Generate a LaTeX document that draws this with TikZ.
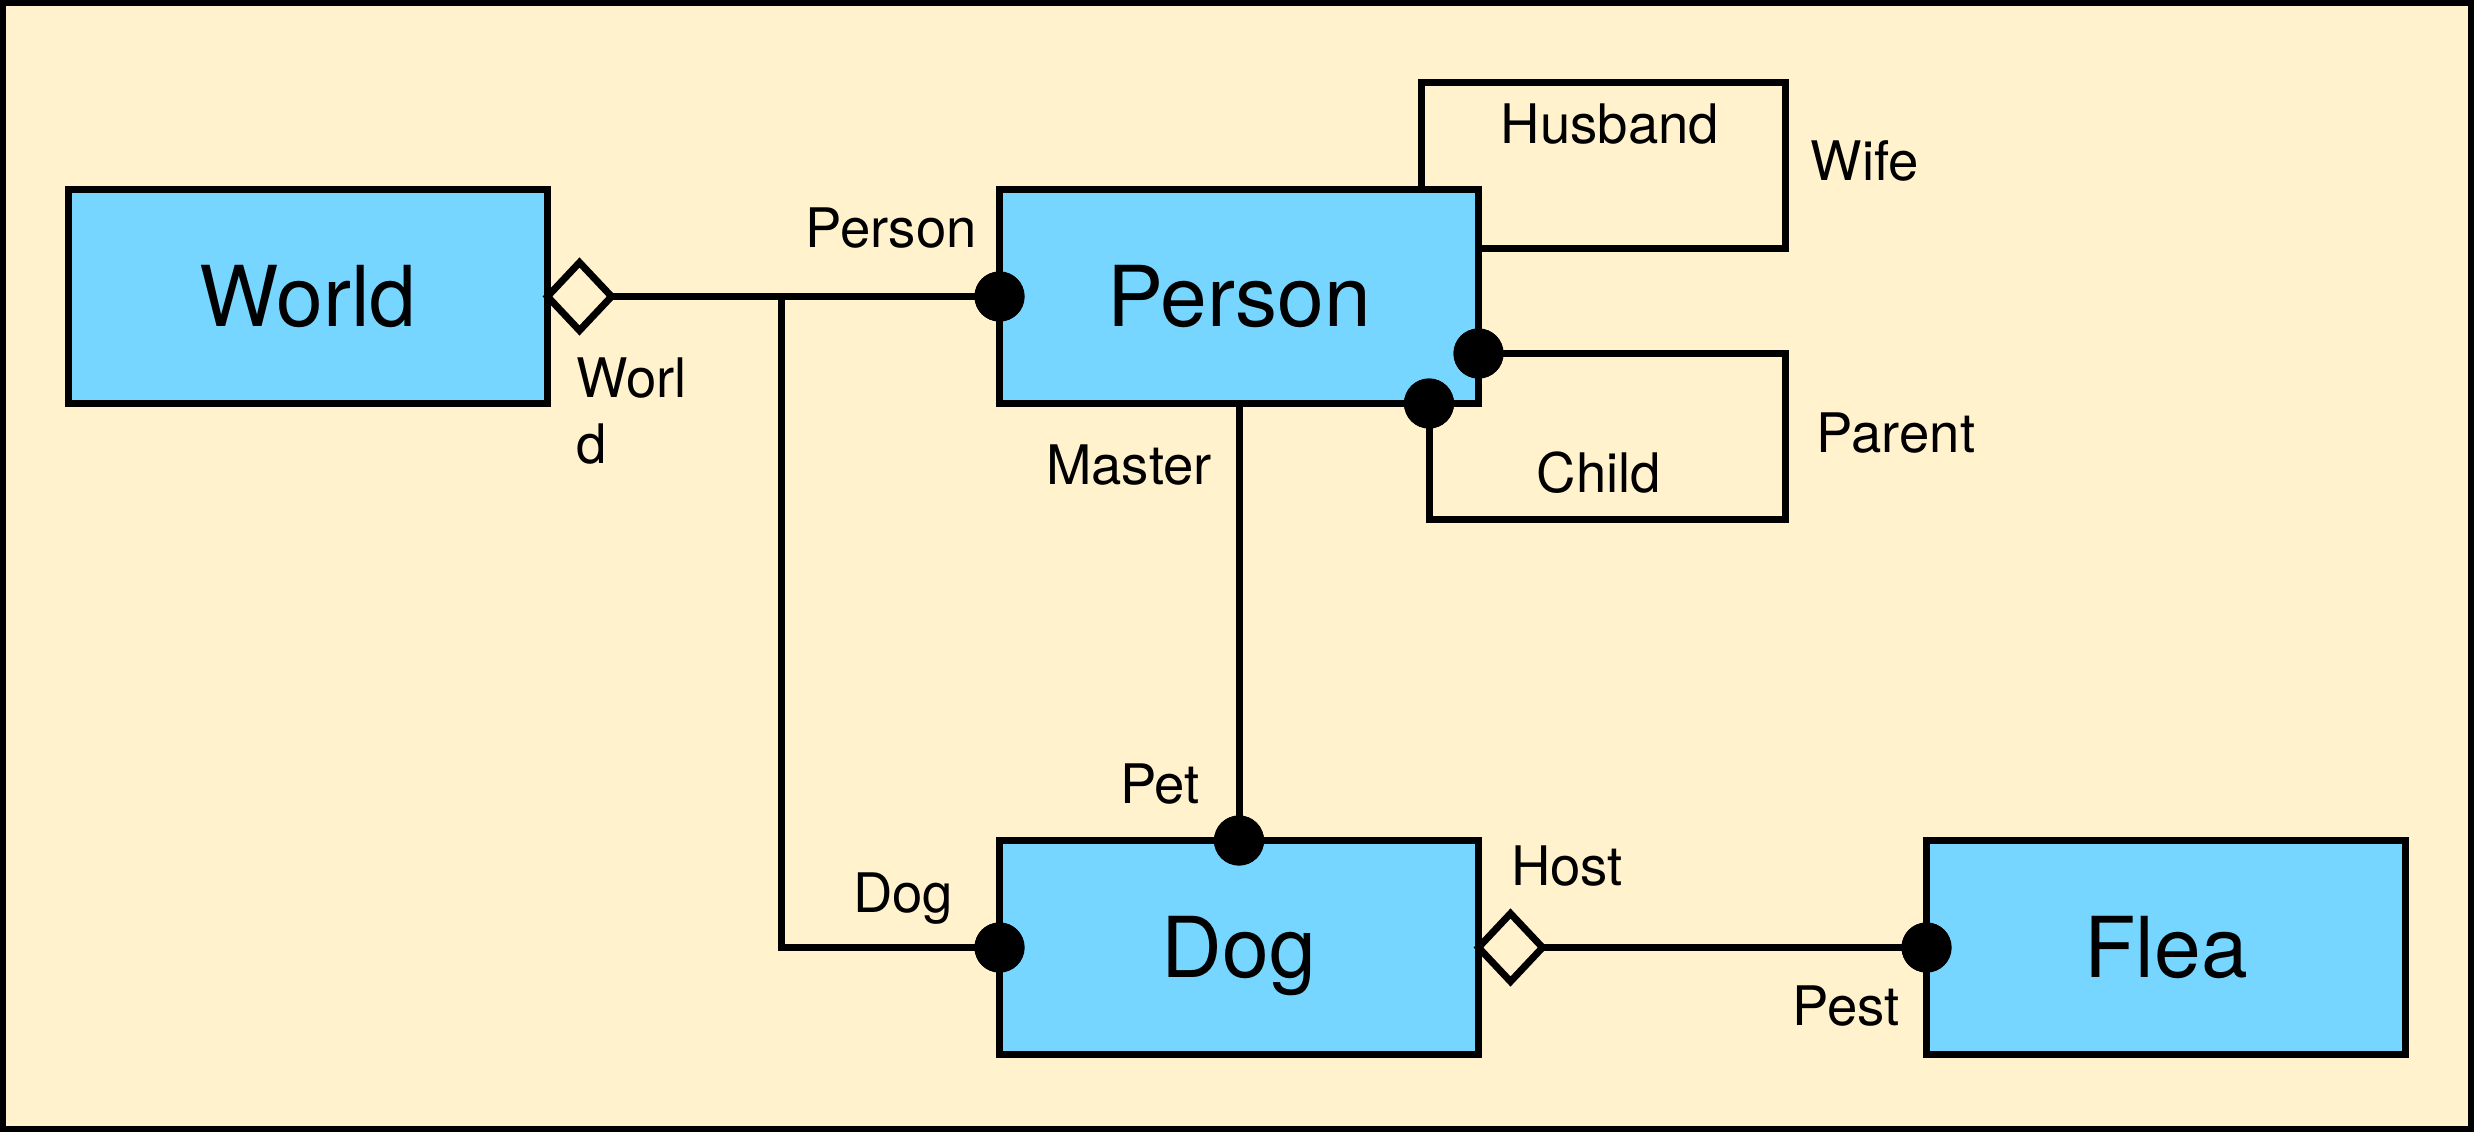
\documentclass[tikz,border=0pt]{standalone}
\usepackage{fontspec}
\setmainfont{TeX Gyre Heros}
\usetikzlibrary{shapes.geometric,calc}
\definecolor{bg}{HTML}{FFF2CC}
\definecolor{boxblue}{HTML}{76D6FF}
\begin{document}
\begin{tikzpicture}[x=1pt,y=-1pt,
 cls/.style={draw=black,line width=7pt,fill=boxblue,minimum width=479pt,minimum height=214pt,inner sep=0pt,outer sep=0pt,font=\fontsize{84}{100}\selectfont,text height=60pt,text depth=0pt},
 conn/.style={draw=black,line width=7pt,line join=miter},
 diam/.style={draw=black,line width=7pt,fill=bg,shape=diamond,minimum width=64pt,minimum height=68pt,inner sep=0pt,outer sep=0pt,aspect=1},
 dot/.style={circle,fill=black,minimum size=50pt,inner sep=0pt,outer sep=0pt},
 lbl/.style={inner sep=0pt,font=\fontsize{54.5}{66}\selectfont}]
\useasboundingbox (0,0) rectangle (2474,1132);
\fill[bg] (0,0) rectangle (2474,1132);
\draw[line width=6pt] (3,3) rectangle (2471,1129);
% classes
\node[cls] (world) at (308,296.5) {World};
\node[cls] (person) at (1239,296.5) {Person};
\node[cls] (dog) at (1239,947.5) {Dog};
\node[cls] (flea) at (2166,947.5) {Flea};
% helper coordinates
\coordinate (jtop) at (781.5,296.5);
\coordinate (jbot) at (781.5,947.5);
\coordinate (hus) at (1421.5,82.5);
\coordinate (wif) at (1785.5,248.5);
\coordinate (par) at (1785.5,519.5);
\coordinate (cr) at (1785.5,353.5);
\coordinate (cb) at (1429,519.5);
% diamonds and dots
\node[diam,anchor=west] (wdia) at (world.east) {};
\node[diam,anchor=west] (hdia) at (dog.east) {};
\node[dot] (dpw) at (person.west) {};
\node[dot] (ddw) at (dog.west) {};
\node[dot] (ddn) at (dog.north) {};
\node[dot] (dfw) at (flea.west) {};
\node[dot] (dpr) at (person.east |- cr) {};
\node[dot] (dpb) at (person.south -| cb) {};
% connectors
\draw[conn] (wdia.east) -- (dpw.center);
\draw[conn] (jtop) -- (jbot) -- (ddw.center);
\draw[conn] (person.south) -- (ddn.center);
\draw[conn] (hdia.east) -- (dfw.center);
\draw[conn] (person.north -| hus) |- (wif |- hus) -- (wif) -- (person.east |- wif);
\draw[conn] (dpr.center) -| (par) -| (dpb.center);
% redraw dots on top
\fill (dpw) circle (25pt);
\fill (ddw) circle (25pt);
\fill (ddn) circle (25pt);
\fill (dfw) circle (25pt);
\fill (dpr) circle (25pt);
\fill (dpb) circle (25pt);
% labels
\node[lbl,anchor=base east] (lperson) at (977,247) {Person};
\node[lbl,anchor=north west,align=left] (lworld) at (576,358) {Worl\\d};
\node[lbl,anchor=base] (lmaster) at (1129,484) {Master};
\node[lbl,anchor=base] (lpet) at (1160,803) {Pet};
\node[lbl,anchor=base] (ldog) at (903,912) {Dog};
\node[lbl,anchor=base] (lhost) at (1567,885) {Host};
\node[lbl,anchor=base] (lpest) at (1846,1025) {Pest};
\node[lbl,anchor=base] (lhus) at (1610,143) {Husband};
\node[lbl,anchor=base] (lwife) at (1865,180) {Wife};
\node[lbl,anchor=base] (lparent) at (1896,452) {Parent};
\node[lbl,anchor=base] (lchild) at (1599,492) {Child};
\end{tikzpicture}
\end{document}
